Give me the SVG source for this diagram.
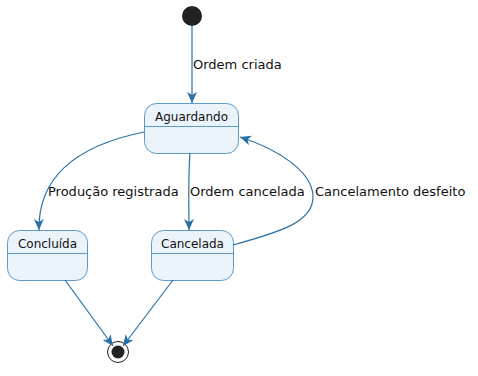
<svg xmlns="http://www.w3.org/2000/svg" width="478" height="376" viewBox="0 0 478 376">
<style>
.st{fill:#ECF4FB;stroke:#5F9AC6;stroke-width:1;}
.dv{stroke:#5F9AC6;stroke-width:1;}
.nm{font-family:"DejaVu Sans",sans-serif;font-size:12px;fill:#111;text-anchor:middle;}
.lb{font-family:"DejaVu Sans",sans-serif;font-size:13px;fill:#111;}
.e{fill:none;stroke:#2A70A6;stroke-width:1.2;}
</style>
<defs>
<marker id="ah" viewBox="0 0 12 10" refX="11" refY="5" markerWidth="12" markerHeight="10" markerUnits="userSpaceOnUse" orient="auto">
<path d="M0,0 L11,5 L0,10 L3,5 Z" fill="#2A70A6"/>
</marker>
</defs>
<rect width="478" height="376" fill="#fff"/>
<g id="start"><circle cx="192" cy="16" r="10" fill="#222"/></g>
<g id="end"><circle cx="118" cy="352" r="10.5" fill="#fff" stroke="#222" stroke-width="1"/><circle cx="118" cy="352" r="6.5" fill="#222"/></g>
<g id="Aguardando"><rect class="st" x="144.5" y="103.5" width="94" height="50" rx="12"/><line class="dv" x1="144.5" y1="126.5" x2="238.5" y2="126.5"/><text class="nm" x="191.5" y="121">Aguardando</text></g>
<g id="Concluida"><rect class="st" x="7.5" y="230.5" width="80" height="50" rx="12"/><line class="dv" x1="7.5" y1="253.5" x2="87.5" y2="253.5"/><text class="nm" x="47.5" y="248">Concluída</text></g>
<g id="Cancelada"><rect class="st" x="151.5" y="230.5" width="82" height="50" rx="12"/><line class="dv" x1="151.5" y1="253.5" x2="233.5" y2="253.5"/><text class="nm" x="192.5" y="248">Cancelada</text></g>
<g id="connectors">
<path class="e" d="M192,26 L192,103" marker-end="url(#ah)"/>
<path class="e" d="M144,132 C80,145 38,175 39,230" marker-end="url(#ah)"/>
<path class="e" d="M190,153 C188,180 189,205 189,230" marker-end="url(#ah)"/>
<path class="e" d="M233,245 C280,232 314,222 313,196 C312,172 280,150 240,137" marker-end="url(#ah)"/>
<path class="e" d="M65,280 L113,346" marker-end="url(#ah)"/>
<path class="e" d="M173,280 L123,346" marker-end="url(#ah)"/>
</g>
<g id="labels">
<text class="lb" x="193" y="69">Ordem criada</text>
<text class="lb" x="48" y="196">Produção registrada</text>
<text class="lb" x="190" y="196">Ordem cancelada</text>
<text class="lb" x="315" y="196">Cancelamento desfeito</text>
</g>
</svg>
